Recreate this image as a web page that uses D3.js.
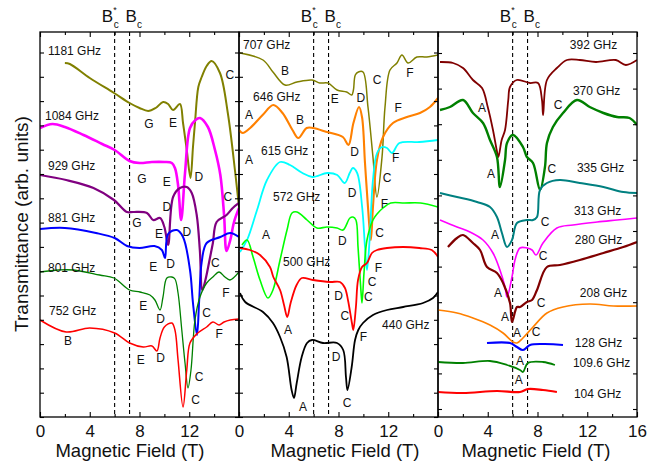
<!DOCTYPE html>
<html>
<head>
<meta charset="utf-8">
<script src="https://cdn.jsdelivr.net/npm/d3@7"></script>
<style>
body { margin: 0; background: #fff; }
text { font-family: Arial, "Liberation Sans", sans-serif; fill: #111; }
</style>
</head>
<body>
<svg id="chart" width="668" height="469"></svg>
<script>
// field axis (T) and critical fields
const fieldTicks = [0, 2, 4, 6, 8, 10, 12, 14, 16];
const critFields = [6.0, 7.2];           // B*c, Bc

// spectra: [field (T), transmittance (arb. units, offset)]
// panel 1
const f1181 = [[2.0,35.4],[2.4,35.3],[4.0,33.9],[5.95,32.4],[7.2,31.4],[8.0,30.9],[8.7,30.6],[9.3,30.9],[9.9,31.5],[10.3,31.3],[10.7,30.7],[11.25,31.3],[11.5,29.4],[11.8,26.7],[12.1,23.9],[12.3,27.0],[12.46,29.4],[12.73,33.0],[13.0,34.0],[13.4,35.1],[13.8,35.6],[14.47,34.4],[15.1,30.4],[15.7,24.4],[16,21.0]];
const f1084 = [[0,28.9],[1.0,29.3],[2.0,29.0],[3.5,28.2],[5.0,27.3],[6.0,26.7],[7.2,25.6],[8.0,25.4],[9.0,25.5],[10.0,25.5],[10.6,25.4],[10.85,24.9],[11.1,23.2],[11.35,19.7],[11.66,24.4],[12.06,28.9],[12.5,29.7],[12.86,29.9],[13.5,29.0],[14.07,26.7],[14.5,24.2],[14.8,20.2],[15.0,16.6],[15.3,17.7],[15.6,19.5],[16,20.9]];
const f929 = [[0,24.2],[2.1,23.7],[4.3,22.9],[5.95,21.7],[7.0,20.5],[7.5,20.5],[8.6,20.4],[9.1,19.7],[9.65,19.9],[10.0,19.0],[10.3,17.2],[10.7,22.0],[11.25,22.9],[11.8,23.0],[12.2,22.4],[12.6,20.2],[12.85,16.7],[13.05,12.7],[13.3,13.7],[13.6,15.5],[13.9,17.4],[14.2,19.5],[15.0,20.2],[15.5,20.9],[16,21.4]];
const f881 = [[0,18.8],[2,18.9],[4.5,18.4],[6,17.9],[7,17.1],[8,16.9],[9.2,17.1],[9.8,16.7],[10.05,15.9],[10.3,18.3],[11,18.7],[11.5,18.0],[12.06,14.7],[12.3,11.4],[12.62,8.2],[12.8,11.7],[13.0,15.5],[13.4,17.4],[14.5,18.0],[15.3,18.4],[16,18.0]];
const f801 = [[0,14.5],[1.5,14.7],[2.7,14.7],[4.8,14.2],[5.95,13.9],[7.2,12.7],[8.04,12.5],[8.84,12.2],[9.24,11.7],[9.65,10.7],[9.89,12.0],[10.2,13.9],[10.6,14.0],[10.85,13.8],[11.1,12.4],[11.4,8.7],[11.66,5.4],[11.9,2.9],[12.14,4.7],[12.46,9.7],[12.86,12.0],[13.4,13.4],[13.9,14.0],[14.4,14.5],[14.87,14.0],[15.27,13.7],[16,14.5]];
const f752 = [[0,9.7],[2.1,8.5],[4,8.9],[6,8.4],[7.2,7.4],[8.3,7.0],[9.0,7.1],[9.4,6.6],[9.65,7.9],[10.0,9.0],[10.6,9.4],[10.85,8.7],[11.1,5.7],[11.5,1.0],[11.8,4.7],[12.06,7.4],[12.6,8.3],[13.4,9.0],[13.9,9.5],[14.4,9.2],[14.8,9.5],[15.3,9.7],[16,9.8]];
// panel 2
const f707 = [[0.08,36.4],[1.93,35.7],[2.73,34.5],[3.7,33.2],[4.66,33.5],[5.87,33.7],[6.5,33.4],[7.15,33.4],[7.88,32.7],[8.66,32.5],[9.06,32.2],[9.2,32.7],[9.35,34.2],[9.6,34.5],[9.97,34.5],[10.37,31.0],[10.77,26.0],[11.09,22.0],[11.5,26.0],[11.74,31.0],[12.14,34.7],[12.7,35.4],[13.1,36.2],[13.6,35.4],[14.3,36.0],[15.1,36.0],[16,36.2]];
const f646 = [[0,28.7],[0.3,28.4],[0.9,28.9],[1.9,30.2],[2.76,31.2],[3.5,30.4],[4.3,28.7],[4.77,27.9],[5.44,28.9],[5.95,28.9],[7.07,28.5],[8.35,28.0],[8.8,27.2],[9.2,29.4],[9.65,31.0],[9.89,30.0],[10.13,25.4],[10.37,21.0],[10.6,17.7],[10.77,21.0],[11.09,25.7],[11.58,28.0],[12.38,29.4],[13.5,30.0],[14.55,30.4],[15.35,31.0],[16,31.9]];
const f615 = [[0.08,16.5],[0.65,17.7],[1.45,20.7],[2.25,23.7],[3.3,25.5],[4.1,25.2],[5.1,24.4],[5.9,24.0],[7.1,24.4],[7.9,24.2],[8.5,23.4],[8.9,24.4],[9.15,24.9],[9.5,24.4],[9.9,21.0],[10.13,17.0],[10.29,14.7],[10.5,17.7],[10.77,23.7],[11.1,26.4],[11.5,27.0],[11.9,26.9],[12.3,26.4],[12.9,27.4],[14.5,27.5],[16,27.7]];
const f572 = [[0.24,17.2],[0.65,17.7],[1.13,16.0],[1.69,13.7],[2.33,11.9],[2.73,12.7],[3.3,15.7],[3.86,18.7],[4.26,20.4],[4.66,20.5],[5.47,19.7],[6.27,18.9],[7.07,19.0],[7.88,18.9],[8.36,18.7],[8.92,19.9],[9.16,20.0],[9.4,19.7],[9.57,17.0],[9.8,12.7],[9.89,11.4],[10.05,14.4],[10.29,17.7],[10.77,19.7],[11.17,20.4],[11.58,20.9],[12.2,21.4],[13.3,21.4],[14.6,21.4],[16,21.0]];
const f500 = [[0.08,16.9],[0.88,16.7],[1.69,16.2],[2.49,15.0],[2.76,14.0],[3.3,12.7],[3.62,11.2],[3.88,10.0],[4.15,11.4],[4.63,13.2],[5.06,13.9],[5.95,13.7],[7.31,13.5],[8.12,13.5],[8.52,12.9],[8.76,11.7],[9.08,9.4],[9.19,8.7],[9.4,11.0],[9.57,13.7],[9.89,15.0],[10.29,15.4],[10.69,16.4],[11.1,16.7],[11.9,16.9],[13.2,17.0],[14.5,16.9],[15.5,16.7],[16,16.0]];
const f440 = [[0.08,12.4],[0.5,11.5],[1.93,10.5],[2.73,9.4],[3.3,8.0],[3.83,6.0],[4.23,2.7],[4.42,1.9],[4.64,3.4],[5.04,6.0],[5.47,7.4],[5.87,7.7],[6.75,7.4],[7.88,7.4],[8.38,6.7],[8.6,4.0],[8.72,2.7],[9.06,5.0],[9.33,7.7],[9.59,8.7],[9.97,9.4],[10.77,10.2],[11.9,10.7],[13.2,11.0],[14.8,11.4],[15.6,11.9],[16,12.5]];
// panel 3
const f392 = [[0.16,35.5],[1.21,35.4],[2.01,34.9],[2.81,33.7],[3.54,32.9],[4.0,31.0],[4.42,28.7],[4.72,26.7],[4.85,26.0],[5.12,27.7],[5.39,28.7],[5.65,31.7],[5.79,33.0],[6.33,33.7],[7.4,33.4],[8.04,33.4],[8.36,31.7],[8.45,30.2],[8.76,33.7],[9.56,34.9],[10.37,35.7],[11.4,35.7],[12.7,35.5],[14.3,35.7],[15.1,35.2],[16,35.7]];
const f370 = [[0.16,30.7],[0.96,31.0],[2.01,31.7],[2.81,30.4],[3.62,29.4],[4.18,27.7],[4.74,26.0],[4.98,23.0],[5.39,25.7],[5.55,27.4],[6.03,28.2],[6.83,27.0],[7.15,26.0],[7.64,25.4],[8.2,22.7],[8.6,25.0],[8.76,27.4],[9.24,29.0],[10.05,30.4],[11.17,31.7],[12.2,31.0],[13.3,30.4],[14.4,30.0],[15.4,29.9],[16,29.2]];
const f335 = [[0.16,22.4],[1.53,22.0],[3.14,21.5],[4.18,21.0],[4.74,20.0],[5.14,18.4],[5.55,17.0],[5.95,17.7],[6.35,19.4],[7.15,19.7],[7.64,19.7],[7.96,20.0],[8.2,22.7],[8.76,23.4],[9.8,23.7],[11.4,23.4],[13.3,23.0],[14.9,22.5],[16,22.4]];
const f313 = [[0.16,19.7],[1.53,19.0],[2.57,18.5],[3.62,17.7],[4.42,16.4],[4.98,14.7],[5.39,13.0],[5.55,12.0],[5.95,14.0],[6.19,15.7],[6.59,16.9],[7.15,16.9],[7.56,16.7],[7.88,16.2],[8.44,17.4],[9.56,18.9],[10.85,19.2],[12.8,19.5],[14.4,19.7],[16,19.9]];
const f280 = [[0.8,17.0],[1.53,17.9],[2.01,18.2],[2.81,17.4],[3.38,16.7],[3.94,15.0],[4.74,14.4],[5.23,13.4],[5.79,11.4],[5.95,9.5],[6.35,11.0],[6.59,11.0],[7.15,11.5],[7.56,11.7],[7.96,12.7],[8.76,15.0],[9.8,15.2],[11.4,15.7],[13.3,16.4],[14.9,17.0],[16,17.5]];
const f208 = [[0,10.7],[1.53,10.4],[2.81,9.9],[4.18,9.2],[5.23,8.4],[6.03,7.5],[6.35,7.4],[6.83,7.9],[7.64,9.0],[8.76,10.4],[10.05,11.0],[12.2,11.3],[14.1,11.1],[16,11.1]];
const f128 = [[3.94,7.4],[5.79,7.4],[6.35,7.0],[6.83,6.7],[7.4,7.2],[8.44,7.3],[10.05,7.2]];
const f109 = [[0,5.5],[2.01,5.4],[4.18,5.6],[5.55,5.2],[6.59,4.7],[6.83,4.5],[7.23,5.4],[8.44,5.5],[9.4,5.2]];
const f104 = [[0,2.5],[2.01,2.4],[4.74,2.6],[6.59,2.5],[7.23,2.8],[8.44,2.7],[9.56,2.5]];

// frequency labels [text, field, level]
const freq1 = [["1181 GHz",0.64,36.6],["1084 GHz",0.4,30.1],["929 GHz",0.64,25.1],["881 GHz",0.64,19.9],["801 GHz",0.64,14.9],["752 GHz",0.72,10.6]];
const freq2 = [["707 GHz",0.32,37.2],["646 GHz",1.13,32.0],["615 GHz",1.77,26.6],["572 GHz",2.73,22.0],["500 GHz",3.54,15.5],["440 GHz",11.5,9.2]];
const freq3 = [["392 GHz",10.6,37.2],["370 GHz",10.85,32.6],["335 GHz",11.17,24.9],["313 GHz",10.93,20.6],["280 GHz",11.0,17.7],["208 GHz",11.4,12.4],["128 GHz",11.0,7.4],["109.6 GHz",10.85,5.4],["104 GHz",10.93,2.3]];
// resonance letters [text, field, level]
const peaks1 = [["G",8.76,29.3],["E",10.7,29.4],["C",15.27,34.2],["D",12.78,24.0],["G",8.2,23.8],["E",10.2,23.5],["C",15.1,22.0],["D",10.2,21.0],["D",11.8,18.5],["G",7.8,19.4],["E",9.57,18.3],["E",9.1,15.0],["D",10.5,15.3],["C",14.1,15.4],["F",14.95,12.4],["E",8.3,11.1],["D",9.7,9.8],["C",13.4,10.4],["B",2.25,7.6],["E",8.1,5.7],["D",9.7,5.9],["F",14.4,8.3],["C",12.8,4.0],["C",12.5,1.7]];
const peaks2 = [["B",3.7,34.6],["E",7.7,31.8],["D",9.8,31.9],["C",11.1,33.7],["F",13.75,34.4],["A",0.8,30.2],["B",4.9,29.7],["D",9.3,26.5],["F",12.8,30.9],["A",0.8,25.7],["F",12.6,25.9],["C",11.9,23.9],["D",9.1,22.4],["F",11.7,21.3],["C",11.3,18.4],["A",2.17,18.2],["D",8.3,17.6],["F",11.2,14.9],["C",10.7,13.5],["C",10.4,12.0],["D",8.0,12.1],["C",8.5,10.1],["F",10.0,8.0],["A",3.94,8.7],["D",7.8,6.0],["A",5.14,1.0],["C",8.7,1.4]];
const peaks3 = [["A",3.54,30.9],["C",9.65,31.2],["A",4.26,24.3],["C",9.16,24.8],["A",4.58,18.2],["C",8.6,19.5],["C",8.44,16.1],["A",4.82,12.4],["C",8.28,11.4],["A",5.39,10.0],["A",6.35,8.4],["C",7.88,8.5],["A",6.6,5.6],["A",6.5,3.7]];

const panels = [
  { x0: 40, labelTicks: [0,4,8,12], yStep: 2.43, yStart: 0, titleX: 130, freq: freq1, peaks: peaks1,
    series: [[f1181,"#808000",2.0],[f1084,"#ff00ff",2.6],[f929,"#800080",2.2],[f881,"#0000ff",2.0],[f801,"#008000",1.3],[f752,"#ff0000",1.5]] },
  { x0: 239, labelTicks: [0,4,8,12], yStep: 2.43, yStart: 0, titleX: 345, freq: freq2, peaks: peaks2,
    series: [[f707,"#808000",1.5],[f646,"#ff8000",2.1],[f615,"#00ffff",1.8],[f572,"#00ff00",1.6],[f500,"#ff0000",1.8],[f440,"#000000",1.8]] },
  { x0: 438, labelTicks: [0,4,8,12,16], yStep: 3.56, yStart: 0.8, titleX: 536, freq: freq3, peaks: peaks3,
    series: [[f392,"#800000",1.8],[f370,"#008000",2.4],[f335,"#008080",2.0],[f313,"#ff00ff",1.6],[f280,"#800000",2.2],[f208,"#ff8000",1.6],[f128,"#0000ff",2.2],[f109,"#008000",1.8],[f104,"#ff0000",2.2]] }
];

const plotTop = 32, plotBottom = 417, pw = 199;
const svg = d3.select("#chart");
const defs = svg.append("defs");

panels.forEach((p, i) => {
  const x = d3.scaleLinear().domain([0, 16]).range([p.x0, p.x0 + pw]);
  const y = d3.scaleLinear().domain([0, 38.5]).range([plotBottom, plotTop]);
  const g = svg.append("g");

  defs.append("clipPath").attr("id", "clip" + i)
    .append("rect").attr("x", p.x0).attr("y", plotTop).attr("width", pw).attr("height", plotBottom - plotTop);

  // dashed critical field lines
  g.selectAll(".crit").data(critFields).enter().append("line")
    .attr("x1", d => x(d)).attr("x2", d => x(d))
    .attr("y1", plotTop).attr("y2", plotBottom)
    .attr("stroke", "#000").attr("stroke-width", 1.1).attr("stroke-dasharray", "4,3");

  // spectra
  const line = d3.line().x(d => x(d[0])).y(d => y(d[1])).curve(d3.curveCatmullRom.alpha(0.5));
  const lines = g.append("g").attr("clip-path", "url(#clip" + i + ")");
  p.series.forEach(s => {
    lines.append("path").datum(s[0])
      .attr("d", line)
      .attr("fill", "none")
      .attr("stroke", s[1])
      .attr("stroke-width", s[2])
      .attr("stroke-linejoin", "round");
  });

  // frame
  g.append("rect").attr("x", p.x0).attr("y", plotTop).attr("width", pw).attr("height", plotBottom - plotTop)
    .attr("fill", "none").attr("stroke", "#000").attr("stroke-width", 1.3);

  // field axis ticks (inward) on bottom and top
  const major = fieldTicks.filter(t => t % 4 === 0);
  const minor = fieldTicks.filter(t => t % 4 !== 0);
  const fmt = t => p.labelTicks.includes(t) ? String(t) : "";
  const xb = g.append("g").attr("transform", `translate(0,${plotBottom})`)
    .call(d3.axisBottom(x).tickValues(major).tickSize(-5).tickPadding(8).tickFormat(fmt));
  xb.selectAll("text").attr("font-size", 17).style("font-family", "Arial, 'Liberation Sans', sans-serif");
  g.append("g").attr("transform", `translate(0,${plotBottom})`)
    .call(d3.axisBottom(x).tickValues(minor).tickSize(-3).tickFormat(""));
  g.append("g").attr("transform", `translate(0,${plotTop})`)
    .call(d3.axisTop(x).tickValues(major).tickSize(-5).tickFormat(""));
  g.append("g").attr("transform", `translate(0,${plotTop})`)
    .call(d3.axisTop(x).tickValues(minor).tickSize(-3).tickFormat(""));

  // transmittance ticks (no labels)
  const yt = d3.range(p.yStart, 38.5, p.yStep);
  g.append("g").attr("transform", `translate(${p.x0},0)`)
    .call(d3.axisLeft(y).tickValues(yt).tickSize(-4).tickFormat(""));
  g.append("g").attr("transform", `translate(${p.x0 + pw},0)`)
    .call(d3.axisRight(y).tickValues(yt).tickSize(-4).tickFormat(""));
  g.selectAll(".domain").remove();
  g.selectAll(".tick line").attr("stroke", "#000").attr("stroke-width", 1.1);

  // labels
  g.selectAll(".freq").data(p.freq).enter().append("text")
    .attr("x", d => x(d[1])).attr("y", d => y(d[2])).attr("dy", "0.36em")
    .attr("font-size", 12).text(d => d[0]);
  g.selectAll(".peak").data(p.peaks).enter().append("text")
    .attr("x", d => x(d[1])).attr("y", d => y(d[2])).attr("dy", "0.36em")
    .attr("text-anchor", "middle").attr("font-size", 12).text(d => d[0]);

  // B*c and Bc above the dashed lines
  const xs = x(critFields[0]), xc = x(critFields[1]);
  g.append("text").attr("x", xs - 1.5).attr("y", 22).attr("text-anchor", "end").attr("font-size", 17).text("B");
  g.append("text").attr("x", xs - 1.5).attr("y", 13).attr("font-size", 9).text("*");
  g.append("text").attr("x", xs - 1).attr("y", 28).attr("font-size", 10).text("c");
  g.append("text").attr("x", xc - 4).attr("y", 22).attr("font-size", 17).text("B");
  g.append("text").attr("x", xc + 7.5).attr("y", 28).attr("font-size", 10).text("c");

  // field axis title
  g.append("text").attr("x", p.titleX).attr("y", 457).attr("text-anchor", "middle")
    .attr("font-size", 18.5).text("Magnetic Field (T)");
});

svg.append("text")
  .attr("transform", "translate(28,224) rotate(-90)")
  .attr("text-anchor", "middle").attr("font-size", 19)
  .text("Transmittance (arb. units)");
</script>
</body>
</html>
